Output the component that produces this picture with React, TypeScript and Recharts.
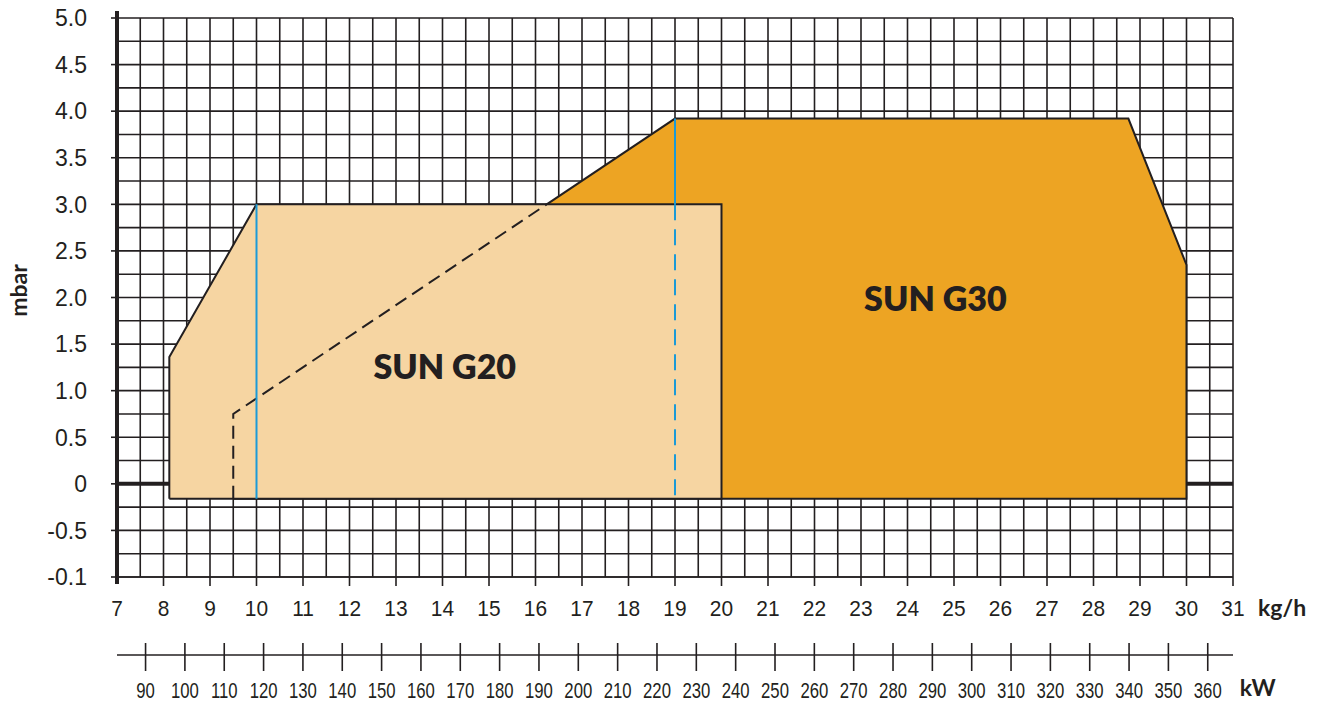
import React from 'react';
import {
  ComposedChart,
  Area,
  Line,
  XAxis,
  YAxis,
  CartesianGrid,
  ReferenceLine,
  ReferenceDot,
  Label,
} from 'recharts';

// ---- colours ----
const DARK = '#231F20';
const PEACH = '#F6D5A2';
const ORANGE = '#EDA423';
const BLUE = '#1B9AD7';
const NUM_FONT = '"Liberation Sans", Arial, sans-serif';
const BOLD_FONT = 'Lato, "Open Sans", sans-serif';

// ---- axes ----
const kgTicks = [7, 8, 9, 10, 11, 12, 13, 14, 15, 16, 17, 18, 19, 20, 21, 22, 23, 24, 25, 26, 27, 28, 29, 30, 31];
const kwTicks = [90, 100, 110, 120, 130, 140, 150, 160, 170, 180, 190, 200, 210, 220, 230, 240, 250, 260, 270, 280, 290, 300, 310, 320, 330, 340, 350, 360];
const mbarTicks = [-1, -0.5, 0, 0.5, 1, 1.5, 2, 2.5, 3, 3.5, 4, 4.5, 5];
const mbarLabels = ['-0.1', '-0.5', '0', '0.5', '1.0', '1.5', '2.0', '2.5', '3.0', '3.5', '4.0', '4.5', '5.0'];
const kgDomain: [number, number] = [7, 31];
const mbarDomain: [number, number] = [-1, 5];
const KW_PER_KG = 11.82;
const kwDomain: [number, number] = [kgDomain[0] * KW_PER_KG, kgDomain[1] * KW_PER_KG];
const kgUnit = 'kg/h';
const kwUnit = 'kW';
const yUnit = 'mbar';

// grid every 0.5 kg/h and every 0.25 mbar
const kgGrid = Array.from({ length: (kgDomain[1] - kgDomain[0]) * 2 + 1 }, (_, i) => kgDomain[0] + i * 0.5);
const mbarGrid = Array.from({ length: (mbarDomain[1] - mbarDomain[0]) * 4 + 1 }, (_, i) => mbarDomain[0] + i * 0.25);
// empty helper rows that give the kW scale its extent (no marks drawn)
const kwScaleRows = kwDomain.map((v) => ({ x: v, y: null }));

// ---- series (kg/h, mbar) ----
const seriesNames = ['SUN G20', 'SUN G30'];
const g20Outline = [
  { x: 8.125, y: -0.16 },
  { x: 8.125, y: 1.36 },
  { x: 10, y: 3.0 },
  { x: 20, y: 3.0 },
  { x: 20, y: -0.16 },
  { x: 8.125, y: -0.16 },
];
const g30Outline = [
  { x: 9.5, y: -0.16 },
  { x: 9.5, y: 0.75 },
  { x: 19, y: 3.92 },
  { x: 28.75, y: 3.92 },
  { x: 30, y: 2.35 },
  { x: 30, y: -0.16 },
  { x: 9.5, y: -0.16 },
];
const g30HiddenEdge = [
  { x: 9.5, y: -0.16 },
  { x: 9.5, y: 0.75 },
  { x: 16.24, y: 3.0 },
];
const blue10 = [
  { x: 10, y: 3.0 },
  { x: 10, y: -0.16 },
];
const blue19Solid = [
  { x: 19, y: 3.92 },
  { x: 19, y: 3.0 },
];
const blue19Dashed = [
  { x: 19, y: 3.0 },
  { x: 19, y: -0.16 },
];
const labelPos = [
  { x: 14.05, y: 1.255 },
  { x: 24.6, y: 1.985 },
];

const KgTick = (props: any) => {
  const { x, y, payload } = props;
  const v = payload.value;
  if (!kgTicks.includes(v)) return <g />;
  const first = v === kgTicks[0];
  const last = v === kgTicks[kgTicks.length - 1];
  return (
    <g>
      <line x1={x} x2={x} y1={y} y2={y + (first ? 7 : 9)} stroke={DARK} strokeWidth={first ? 4 : 1.6} />
      <text
        transform={`translate(${x} ${y + 39}) scale(0.93 1)`}
        textAnchor="middle"
        fontFamily={NUM_FONT}
        fontSize={22.5}
        fill={DARK}
      >
        {String(v)}
      </text>
      {last && (
        <text x={x + 25} y={y + 39} fontFamily={BOLD_FONT} fontWeight={700} fontSize={23} fill={DARK}>
          {kgUnit}
        </text>
      )}
    </g>
  );
};

const KwTick = (props: any) => {
  const { x, y, payload } = props;
  const v = payload.value;
  const last = v === kwTicks[kwTicks.length - 1];
  return (
    <g>
      <line x1={x} x2={x} y1={y - 12} y2={y + 16} stroke={DARK} strokeWidth={1.6} />
      <text
        transform={`translate(${x} ${y + 43}) scale(0.76 1)`}
        textAnchor="middle"
        fontFamily={NUM_FONT}
        fontSize={22}
        fill={DARK}
      >
        {String(v)}
      </text>
      {last && (
        <text x={x + 32} y={y + 41} fontFamily={BOLD_FONT} fontWeight={700} fontSize={23} fill={DARK}>
          {kwUnit}
        </text>
      )}
    </g>
  );
};

const MbarTick = (props: any) => {
  const { x, y, payload } = props;
  const i = mbarTicks.indexOf(payload.value);
  if (i < 0) return <g />;
  const top = i === mbarTicks.length - 1;
  return (
    <g>
      <line x1={x - 6} x2={x} y1={y} y2={y} stroke={DARK} strokeWidth={1.6} />
      {top && <line x1={x} x2={x} y1={y - 7} y2={y} stroke={DARK} strokeWidth={4} />}
      <text x={x - 30} y={y} dy="0.36em" textAnchor="end" fontFamily={NUM_FONT} fontSize={23} fill={DARK}>
        {mbarLabels[i]}
      </text>
    </g>
  );
};

const labelStyle = {
  fontFamily: BOLD_FONT,
  fontWeight: 800,
  fontSize: 34,
  fill: DARK,
};

export default function App() {
  return (
    <div style={{ position: 'absolute', left: 0, top: 0, width: 1327, height: 706, background: '#fff' }}>
      <ComposedChart width={1327} height={706} margin={{ top: 18, right: 94, bottom: 0, left: 0 }}>
        <CartesianGrid stroke={DARK} strokeWidth={1.6} />
        <XAxis
          xAxisId={0}
          dataKey="x"
          type="number"
          domain={kgDomain}
          ticks={kgGrid}
          interval={0}
          allowDataOverflow
          height={78}
          tickSize={0}
          tickMargin={0}
          tickLine={false}
          axisLine={{ stroke: DARK, strokeWidth: 1.6 }}
          tick={<KgTick />}
        />
        <XAxis
          xAxisId="kw"
          dataKey="x"
          type="number"
          domain={kwDomain}
          ticks={kwTicks}
          interval={0}
          allowDataOverflow
          height={51}
          tickSize={0}
          tickMargin={0}
          tickLine={false}
          axisLine={{ stroke: DARK, strokeWidth: 1.6 }}
          tick={<KwTick />}
        />
        <YAxis
          type="number"
          domain={mbarDomain}
          ticks={mbarGrid}
          interval={0}
          allowDataOverflow
          width={117}
          tickSize={0}
          tickMargin={0}
          tickLine={false}
          axisLine={{ stroke: DARK, strokeWidth: 4 }}
          tick={<MbarTick />}
        >
          <Label
            content={(p: any) => {
              const vb = p.viewBox || { x: 0, y: 18, width: 117, height: 559 };
              const cx = vb.x + 19;
              const cy = vb.y + vb.height / 2 - 7;
              return (
                <text
                  transform={`translate(${cx} ${cy}) rotate(-90)`}
                  textAnchor="middle"
                  dy="0.35em"
                  fontFamily={BOLD_FONT}
                  fontWeight={700}
                  fontSize={23}
                  fill={DARK}
                >
                  {yUnit}
                </text>
              );
            }}
          />
        </YAxis>

        {/* helper series bound to the kW scale; draws nothing */}
        <Line xAxisId="kw" data={kwScaleRows} dataKey="y" stroke="none" dot={false} activeDot={false} legendType="none" isAnimationActive={false} />

        {/* thick zero line outside the envelopes */}
        <ReferenceLine segment={[{ x: kgDomain[0], y: 0 }, { x: g20Outline[0].x, y: 0 }]} stroke={DARK} strokeWidth={4} />
        <ReferenceLine segment={[{ x: g30Outline[5].x, y: 0 }, { x: kgDomain[1], y: 0 }]} stroke={DARK} strokeWidth={4} />

        <Area
          data={g30Outline}
          dataKey="y"
          type="linear"
          baseValue={-0.16}
          fill={ORANGE}
          fillOpacity={1}
          stroke={DARK}
          strokeWidth={2}
          dot={false}
          activeDot={false}
          isAnimationActive={false}
        />
        <Area
          data={g20Outline}
          dataKey="y"
          type="linear"
          baseValue={-0.16}
          fill={PEACH}
          fillOpacity={1}
          stroke={DARK}
          strokeWidth={2}
          dot={false}
          activeDot={false}
          isAnimationActive={false}
        />
        <Line data={g30HiddenEdge} dataKey="y" type="linear" stroke={DARK} strokeWidth={2} strokeDasharray="13 7" dot={false} activeDot={false} isAnimationActive={false} />
        <Line data={blue10} dataKey="y" type="linear" stroke={BLUE} strokeWidth={2} dot={false} activeDot={false} isAnimationActive={false} />
        <Line data={blue19Solid} dataKey="y" type="linear" stroke={BLUE} strokeWidth={2} dot={false} activeDot={false} isAnimationActive={false} />
        <Line data={blue19Dashed} dataKey="y" type="linear" stroke={BLUE} strokeWidth={2} strokeDasharray="16 9" dot={false} activeDot={false} isAnimationActive={false} />

        <ReferenceDot x={labelPos[0].x} y={labelPos[0].y} r={0} fill="none" stroke="none" label={{ value: seriesNames[0], position: 'center', ...labelStyle }} />
        <ReferenceDot x={labelPos[1].x} y={labelPos[1].y} r={0} fill="none" stroke="none" label={{ value: seriesNames[1], position: 'center', ...labelStyle }} />
      </ComposedChart>
    </div>
  );
}
